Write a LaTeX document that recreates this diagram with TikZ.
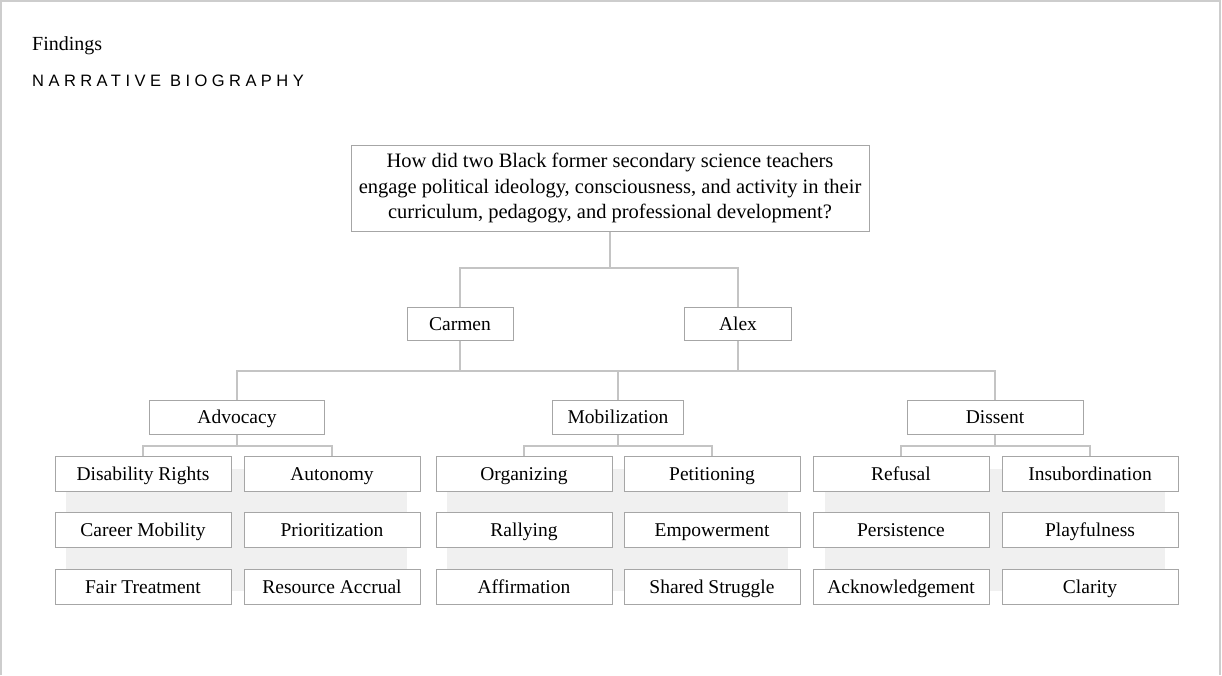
\documentclass[tikz,border=0pt]{standalone}
\usepackage{fontspec}
\setmainfont{Liberation Serif}
\newfontfamily\capsfont[LetterSpace=27]{Liberation Sans}
\usepackage{tikz}

\definecolor{boxline}{HTML}{A6A6A6}
\definecolor{linkline}{HTML}{C4C4C4}
\definecolor{panelgrey}{HTML}{F0F0F0}
\definecolor{frameline}{HTML}{CDCDCD}

\tikzset{
	box/.style={draw=boxline, line width=1pt, fill=white, inner sep=0pt,
		font=\fontsize{19.5}{24}\selectfont},
	leaf/.style={box, minimum width=176pt, minimum height=35pt,
		text height=15pt, text depth=2pt},
	theme/.style={box, minimum height=34pt, text height=15pt, text depth=2pt},
	link/.style={draw=linkline, line width=1.3pt},
}

\begin{document}
\begin{tikzpicture}[x=1pt, y=-1pt]
		\useasboundingbox (0,0) rectangle (1222,675);
		\draw[frameline, line width=1.2pt] (1,675) -- (1,1) -- (1220,1) -- (1220,675);
		
		\node[anchor=base west, inner sep=0pt, font=\fontsize{20}{24}\selectfont] (title) at (32,50) {Findings};
		\node[anchor=base west, inner sep=0pt, font=\capsfont\fontsize{16.5}{20}\selectfont] (subtitle) at (32,86) {NARRATIVE BIOGRAPHY};
		
		% grey panels behind the leaves
		\fill[panelgrey] (66,469) rectangle (407,591);
		\fill[panelgrey] (447,469) rectangle (788,591);
		\fill[panelgrey] (825,469) rectangle (1165,591);
		
		\node[box, minimum width=518pt, minimum height=86pt, align=center,
			font=\fontsize{20.5}{25.5}\selectfont] (question) at (610,188)
			{How did two Black former secondary science teachers\\
			 engage political ideology, consciousness, and activity in their\\
			 curriculum, pedagogy, and professional development?};
		
		\node[theme, minimum width=106pt, minimum height=33pt] (carmen) at (460,323.5) {Carmen};
		\node[theme, minimum width=107pt, minimum height=33pt] (alex) at (738,323.5) {Alex};
		
		\node[theme, minimum width=175pt] (advocacy) at (237,417) {Advocacy};
		\node[theme, minimum width=131pt] (mobilization) at (618,417) {Mobilization};
		\node[theme, minimum width=176pt] (dissent) at (995,417) {Dissent};
		
		% Advocacy
		\node[leaf] (adv1) at (143,473.5) {Disability Rights};
		\node[leaf] (adv2) at (332,473.5) {Autonomy};
		\node[leaf] (adv3) at (143,530) {Career Mobility};
		\node[leaf] (adv4) at (332,530) {Prioritization};
		\node[leaf] (adv5) at (143,587) {Fair Treatment};
		\node[leaf] (adv6) at (332,587) {Resource Accrual};
		
		% Mobilization
		\node[leaf] (mob1) at (524,473.5) {Organizing};
		\node[leaf] (mob2) at (712,473.5) {Petitioning};
		\node[leaf] (mob3) at (524,530) {Rallying};
		\node[leaf] (mob4) at (712,530) {Empowerment};
		\node[leaf] (mob5) at (524,587) {Affirmation};
		\node[leaf] (mob6) at (712,587) {Shared Struggle};
		
		% Dissent
		\node[leaf] (dis1) at (901,473.5) {Refusal};
		\node[leaf] (dis2) at (1090,473.5) {Insubordination};
		\node[leaf] (dis3) at (901,530) {Persistence};
		\node[leaf] (dis4) at (1090,530) {Playfulness};
		\node[leaf] (dis5) at (901,587) {Acknowledgement};
		\node[leaf] (dis6) at (1090,587) {Clarity};
		
		% connectors
		\coordinate (split1) at (610,268);
		\coordinate (split2) at (618,371);
		\draw[link] (question.south) -- (split1);
		\draw[link] (carmen.north) |- (split1) -| (alex.north);
		\draw[link] (carmen.south) -- (carmen.south |- split2);
		\draw[link] (alex.south) -- (alex.south |- split2);
		\draw[link] (advocacy.north) |- (split2) -| (dissent.north);
		\draw[link] (split2) -- (mobilization.north);
		
		\coordinate (advsplit) at (237,446);
		\coordinate (mobsplit) at (618,446);
		\coordinate (dissplit) at (995,446);
		\draw[link] (advocacy.south) -- (advsplit);
		\draw[link] (adv1.north) |- (advsplit) -| (adv2.north);
		\draw[link] (mobilization.south) -- (mobsplit);
		\draw[link] (mob1.north) |- (mobsplit) -| (mob2.north);
		\draw[link] (dissent.south) -- (dissplit);
		\draw[link] (dis1.north) |- (dissplit) -| (dis2.north);
		
	\end{tikzpicture}
\end{document}
